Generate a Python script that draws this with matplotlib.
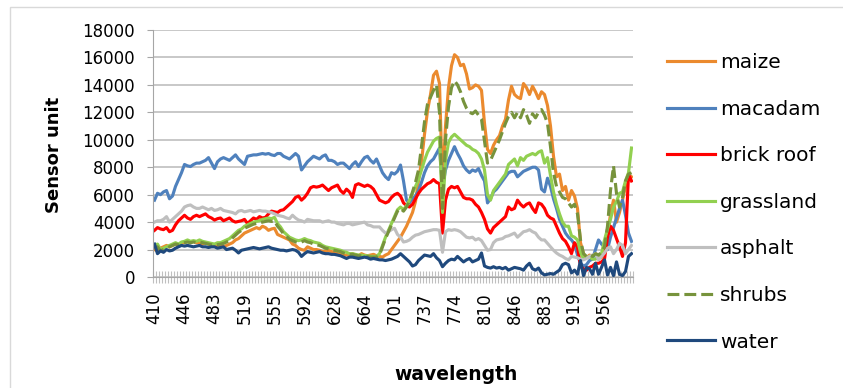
import numpy as np
import matplotlib.pyplot as plt
from matplotlib.patches import Rectangle

# spectral bands (categories), a label every 10th band
n_bands = 160
band_labels = [410, 446, 483, 519, 555, 592, 628, 664, 701, 737, 774, 810, 846, 883, 919, 956]

maize = [
    2000, 1900, 2100, 2200, 2300, 2200, 2300, 2400, 2300, 2500,
    2500, 2600, 2500, 2600, 2500, 2500, 2400, 2500, 2400, 2300,
    2300, 2200, 2300, 2200, 2300, 2400, 2500, 2700, 2800, 3000,
    3200, 3300, 3400, 3500, 3600, 3500, 3700, 3600, 3400, 3500,
    3550, 3100, 3000, 2900, 2800, 2700, 2400, 2300, 2100, 2000,
    1950, 2200, 2100, 2000, 2000, 1950, 1850, 1900, 1950, 1850,
    1800, 1700, 1650, 1600, 1600, 1600, 1700, 1600, 1550, 1700,
    1600, 1550, 1600, 1650, 1550, 1500, 1450, 1600, 1700, 2000,
    2300, 2600, 2900, 3300, 3700, 4200, 4700, 5500, 7000, 8400,
    10400, 12100, 13300, 14700, 15000, 14100, 6500, 11000, 13800, 15400,
    16200, 16000, 15400, 15500, 14800, 13700, 13800, 14000, 13900, 13600,
    11200, 9300, 9000, 9600, 10000, 10300, 11000, 11500, 12900, 13900,
    13300, 13100, 13000, 14100, 13800, 13300, 13900, 13500, 13000, 13500,
    13300, 12500, 11000, 8800, 7300, 7500, 6300, 6600, 5600, 6300,
    5900, 5000, 2500, 1700, 1400, 1600, 1500, 1700, 1600, 1400,
    2200, 2900, 4600, 5600, 4000, 4700, 5600, 6600, 7100, 7300,
]

macadam = [
    5600, 6100, 6000, 6200, 6300, 5700, 5900, 6600, 7100, 7600,
    8200, 8100, 8050, 8200, 8300, 8300, 8400, 8500, 8700, 8300,
    7900, 8400, 8600, 8700, 8600, 8500, 8700, 8900, 8600, 8400,
    8200, 8800, 8850, 8900, 8900, 8950, 9000, 8950, 9000, 8900,
    8850, 9000, 9000, 8800, 8700, 8600, 8800, 9000, 8800, 7800,
    8100, 8400, 8600, 8800, 8700, 8600, 8800, 8900, 8500, 8500,
    8400, 8200, 8300, 8300, 8100, 7900, 8200, 8400, 8050, 8400,
    8700, 8800, 8500, 8300, 8600, 8100, 7600, 7300, 7100, 7600,
    7500, 7700, 8160, 7000, 5600, 5400, 5700, 5900, 6300, 6900,
    7600, 8100, 8400, 8600, 9000, 9400, 6500, 7800, 8500, 9000,
    9500, 9000, 8600, 8100, 7800, 7600, 7800, 7700, 7900, 7400,
    7000, 5400, 5700, 6200, 6400, 6700, 7000, 7300, 7600, 7700,
    7700, 7300, 7500, 7700, 7800, 7900, 8000, 8000, 7800, 6400,
    6200, 7200, 6600, 5700, 5000, 4200, 3700, 3200, 2900, 2700,
    2400, 1600, 1000, 800, 900, 1200, 1300, 2000, 2700, 2400,
    2200, 2000, 2900, 3600, 4300, 5000, 5600, 4500, 3200, 2600,
]

brick_roof = [
    3400, 3600, 3500, 3450, 3600, 3300, 3400, 3800, 4100, 4300,
    4500, 4300, 4200, 4400, 4500, 4400, 4500, 4600, 4400, 4300,
    4150, 4250, 4300, 4100, 4200, 4300, 4100, 4000, 4050, 4100,
    4200, 3900, 4100, 4300, 4200, 4400, 4300, 4350, 4600, 4800,
    4750, 4700, 4850, 4900, 5100, 5300, 5500, 5800, 5900, 5600,
    5800, 6100, 6500, 6600, 6550, 6600, 6700, 6500, 6300, 6500,
    6600, 6700, 6300, 6100, 6400, 6200, 5800, 6700, 6800, 6700,
    6600, 6700, 6600, 6400, 6000, 5600, 5500, 5400, 5500, 5800,
    6000, 6100, 5900, 5400, 5200, 5100, 5300, 5700, 6100, 6400,
    6600, 6800, 6900, 7100, 6900, 6800, 3200, 5600, 6400, 6600,
    6500, 6600, 6200, 5800, 5700, 5700, 5600, 5300, 5100, 4700,
    4200, 3500, 3200, 3600, 3800, 4000, 4200, 4400, 5100, 4900,
    5000, 5600, 5300, 5100, 5300, 5400, 5000, 4700, 5400, 5300,
    5000, 4500, 4300, 4200, 3700, 3200, 2800, 2600, 2200, 1700,
    2500, 2200, 800, 600, 500, 700, 800, 1000, 1000, 1100,
    1300, 2900, 3700, 3400, 2800, 2200, 1500, 2500, 7500, 7000,
]

grassland = [
    2300, 2400, 2000, 2100, 2200, 2300, 2400, 2500, 2400, 2550,
    2600, 2700, 2600, 2650, 2600, 2700, 2600, 2550, 2500, 2450,
    2400, 2500, 2500, 2600, 2700, 2800, 3000, 3200, 3400, 3500,
    3700, 3800, 3900, 4000, 4050, 4100, 4200, 4250, 4300, 4250,
    4350, 3900, 3650, 3300, 3100, 2900, 2800, 2700, 2650, 2700,
    2800, 2700, 2650, 2550, 2500, 2450, 2300, 2200, 2150, 2100,
    2050, 2000, 1950, 1850, 1800, 1700, 1700, 1650, 1600, 1600,
    1550, 1550, 1500, 1500, 1500, 1700, 2300, 2900, 3400, 3900,
    4400, 4900, 5100, 4900, 5200, 5600, 6100, 6600, 7100, 7800,
    8500, 9100, 9500, 9900, 10100, 10200, 4700, 8500, 9800, 10200,
    10400, 10200, 10000, 9800, 9600, 9500, 9300, 9200, 9000, 8600,
    7800, 6000, 5600, 6300, 6600, 6900, 7200, 7500, 8200, 8400,
    8600, 8100, 8700, 8500, 8800, 8900, 9000, 8900, 9100, 9200,
    8300, 8700, 7400, 6200, 5300, 4600, 4000, 3700, 3700, 3000,
    2900, 2700, 1800, 1300, 1400, 1500, 1300, 1300, 1600, 1700,
    2700, 3500, 4200, 5100, 5500, 6100, 6200, 7000, 7600, 9400,
]

asphalt = [
    4000, 4100, 4100, 4200, 4400, 4000, 4200, 4400, 4600, 4800,
    5100, 5200, 5250, 5100, 5000, 5000, 5100, 5000, 4900, 5000,
    4850, 4900, 5000, 4850, 4800, 4750, 4700, 4600, 4800, 4850,
    4750, 4800, 4850, 4750, 4800, 4850, 4800, 4800, 4750, 4700,
    4600, 4500, 4450, 4400, 4300, 4250, 4500, 4300, 4150, 4100,
    4000, 4200, 4150, 4100, 4100, 4100, 4000, 4050, 4100, 4000,
    4000, 3900, 3850, 3800, 3900, 3900, 3800, 3850, 3900, 3950,
    4000, 3800, 3750, 3650, 3650, 3650, 3400, 3200, 3300, 3450,
    3550, 3100, 2900, 2550, 2600, 2700, 2900, 3050, 3100, 3200,
    3300, 3350, 3400, 3450, 3450, 3400, 1800, 3300, 3450, 3400,
    3450, 3400, 3300, 3100, 2900, 2850, 2900, 2700, 2800, 2650,
    2300, 1950, 2000, 2500, 2700, 2750, 2800, 2950, 3000, 3100,
    3200, 2900, 3100, 3300, 3350, 3450, 3300, 3200, 2900, 2700,
    2700, 2450, 2200, 1950, 1750, 1600, 1500, 1350, 1250, 1500,
    1450, 1400, 1300, 1250, 1350, 1500, 1600, 1700, 1250, 1500,
    1750, 2100, 2200, 1700, 2000, 2450, 2300, 1700, 2000, 2300,
]

shrubs = [
    2100, 2200, 1900, 2000, 2100, 2200, 2300, 2400, 2350, 2450,
    2500, 2550, 2500, 2550, 2500, 2550, 2500, 2450, 2400, 2350,
    2300, 2350, 2400, 2450, 2550, 2650, 2850, 3050, 3250, 3400,
    3550, 3650, 3750, 3850, 3900, 3950, 4000, 4050, 4100, 4050,
    4100, 3700, 3450, 3150, 2950, 2750, 2650, 2550, 2500, 2550,
    2650, 2550, 2500, 2400, 2350, 2300, 2200, 2100, 2050, 2000,
    1950, 1900, 1850, 1750, 1700, 1650, 1650, 1600, 1550, 1550,
    1500, 1500, 1450, 1450, 1450, 1600, 2200, 2800, 3300, 3800,
    4300, 4800, 5000, 4800, 5100, 5500, 6200, 6900, 7800, 9500,
    11300, 12600, 13100, 13600, 14000, 12000, 5000, 10000, 12400, 13800,
    14300, 14000, 13500, 12800, 12300, 12000, 11900, 12100, 11800, 11500,
    9900, 8300, 8500, 9000, 9500, 10000, 10600, 11200, 11700, 12000,
    11600, 12000, 11600, 12200, 11800, 11200, 11900, 11600, 12000, 12200,
    11800, 11200, 9500, 7600, 6600, 6200, 5800, 5700, 5400, 5100,
    5300, 4600, 2700, 1700, 1500, 1600, 1500, 1700, 1600, 1800,
    2200, 3700, 6300, 8100, 6100, 5100, 5800, 7000, 7500, 7600,
]

water = [
    2400, 1700, 1900, 1800, 2000, 1900, 1950, 2100, 2200, 2300,
    2250, 2300, 2250, 2200, 2250, 2300, 2200, 2200, 2150, 2200,
    2200, 2100, 2150, 2200, 2000, 2050, 2100, 1950, 1750, 1950,
    2000, 2050, 2100, 2150, 2100, 2050, 2100, 2150, 2200, 2100,
    2050, 2000, 1950, 1950, 1900, 1950, 2000, 1950, 1800, 1500,
    1700, 1850, 1800, 1750, 1800, 1850, 1750, 1700, 1700, 1650,
    1650, 1600, 1550, 1450, 1350, 1450, 1450, 1400, 1350, 1400,
    1450, 1400, 1300, 1350, 1300, 1250, 1250, 1200, 1250, 1300,
    1400, 1500, 1700, 1500, 1300, 1100, 800, 900, 1200, 1400,
    1600, 1550, 1500, 1700, 1400, 1200, 750, 1000, 1200, 1300,
    1250, 1500, 1300, 1100, 1250, 1350, 1100, 1200, 1300, 1750,
    800, 700, 650, 750, 650, 700, 600, 700, 500, 600,
    700, 650, 600, 500, 800, 1000, 600, 500, 650, 300,
    150, 200, 250, 200, 350, 500, 900, 1000, 900, 300,
    500, 200, 1200, 100, 700, 600, 200, 1000, 200, 700,
    1250, 150, 700, 100, 1100, 200, 100, 400, 1500, 1700,
]

series = [
    ("maize", maize, "#EB8A2E", "-"),
    ("macadam", macadam, "#4F81BD", "-"),
    ("brick roof", brick_roof, "#FF0000", "-"),
    ("grassland", grassland, "#92D050", "-"),
    ("asphalt", asphalt, "#BFBFBF", "-"),
    ("shrubs", shrubs, "#77933C", (0, (3.8, 1.6))),
    ("water", water, "#1F497D", "-"),
]

fig = plt.figure(figsize=(8.43, 3.88), dpi=100)
ax = fig.add_axes([153 / 843, 1 - 277 / 388, 480 / 843, 247 / 388])

x = np.arange(n_bands)
for name, vals, col, ls in series:
    ax.plot(x, vals, color=col, lw=2.25, ls=ls, label=name)

ax.set_xlim(-0.5, n_bands - 0.5)
ax.set_ylim(0, 18000)
ax.set_yticks(range(0, 18001, 2000))
ax.grid(axis='y', color='#BFBFBF', lw=1.2)
ax.set_axisbelow(True)

ax.set_xticks(np.arange(0, n_bands, 10))
ax.set_xticklabels([str(b) for b in band_labels], rotation=90)
ax.set_xticks(np.arange(-0.5, n_bands, 1), minor=True)
ax.tick_params(axis='x', which='major', length=0, pad=11, labelsize=12)
ax.tick_params(axis='x', which='minor', direction='inout', length=9,
               color='#BFBFBF', width=0.8)
ax.tick_params(axis='y', length=4, color='#A6A6A6', pad=9, labelsize=12)

for s in ['top', 'right']:
    ax.spines[s].set_visible(False)
ax.spines['left'].set_color('#A6A6A6')
ax.spines['bottom'].set_color('#A6A6A6')

fig.text(54 / 843, 1 - 155 / 388, "Sensor unit", rotation=90, fontsize=13,
         fontweight='bold', ha='center', va='center')
fig.text(456 / 843, 1 - 374 / 388, "wavelength", fontsize=13.5,
         fontweight='bold', ha='center', va='center')

fig.legend(loc='upper left', bbox_to_anchor=(667 / 843, 1 - 53 / 388),
           frameon=False, fontsize=14.5, handlelength=2.39, handletextpad=0.25,
           labelspacing=1.37, borderpad=0, borderaxespad=0)

# outer chart border (only left and top edges fall inside the image)
fig.patches.append(Rectangle((10 / 843, -0.1), 1.0, 1.1 - 7 / 388,
                             transform=fig.transFigure, fill=False,
                             ec='#D9D9D9', lw=1))

fig.savefig("out.png", dpi=100)
